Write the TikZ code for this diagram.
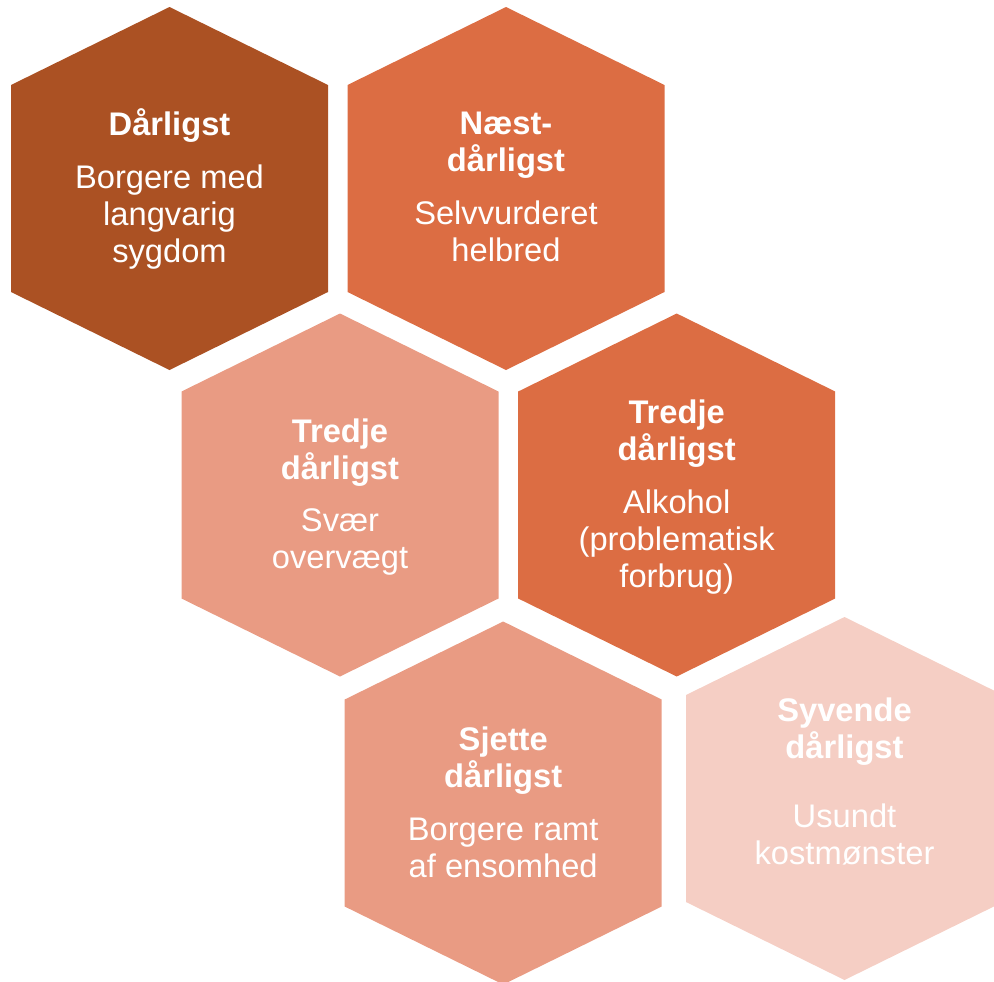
\documentclass[tikz,border=0pt]{standalone}
\usepackage{fontspec}
\setmainfont{Liberation Sans}
\usepackage{tikz}

\definecolor{hexbrown}{RGB}{171,81,35}
\definecolor{hexorange}{RGB}{220,109,67}
\definecolor{hexsalmon}{RGB}{233,155,131}
\definecolor{hexpink}{RGB}{245,206,196}

\tikzset{
	hexcell/.pic={
		\path[pic actions] (0,-181.5) -- (158.5,-103.5) -- (158.5,103.5) -- (0,181.5)
			-- (-158.5,103.5) -- (-158.5,-103.5) -- cycle;
	},
	celltext/.style={text=white, align=center, font=\fontsize{18.6}{21}\selectfont},
}

\begin{document}
\begin{tikzpicture}[x=0.02cm, y=-0.02cm]
	\clip (0,0) rectangle (994,981);

	% Honeycomb cells, top row to bottom row
	\pic[fill=hexbrown] at (169.5,188.5) {hexcell};
	\pic[fill=hexorange] at (506,188.5) {hexcell};
	\pic[fill=hexsalmon] at (340,495) {hexcell};
	\pic[fill=hexorange] at (676.7,495) {hexcell};
	\pic[fill=hexsalmon] at (503.2,803) {hexcell};
	\pic[fill=hexpink] at (844.5,798.5) {hexcell};

	% Texts in the cells
	\node[celltext] (darligst) at (169.5,189) {\textbf{Dårligst}\\[0.32cm]Borgere med\\langvarig\\sygdom};
	\node[celltext] (naest) at (506,187) {\textbf{Næst-}\\\textbf{dårligst}\\[0.32cm]Selvvurderet\\helbred};
	\node[celltext] (tredjeA) at (340,497) {\textbf{Tredje}\\\textbf{dårligst}\\[0.32cm]Svær\\overvægt};
	\node[celltext] (tredjeB) at (676.7,497) {\textbf{Tredje}\\\textbf{dårligst}\\[0.32cm]Alkohol\\(problematisk\\forbrug)};
	\node[celltext] (sjette) at (503.2,802.5) {\textbf{Sjette}\\\textbf{dårligst}\\[0.32cm]Borgere ramt\\af ensomhed};
	\node[celltext] (syvende) at (844.5,781.5) {\textbf{Syvende}\\\textbf{dårligst}\\[0.66cm]Usundt\\kostmønster};
\end{tikzpicture}
\end{document}
